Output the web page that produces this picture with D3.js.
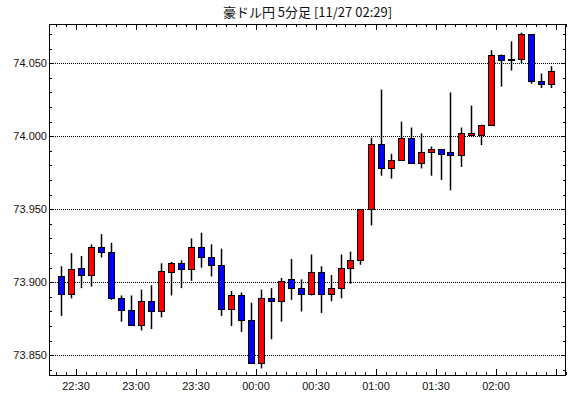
<!DOCTYPE html>
<html><head><meta charset="utf-8">
<script src="https://cdn.jsdelivr.net/npm/d3@7/dist/d3.min.js"></script>
<style>
html,body{margin:0;padding:0;background:#fff;}
svg{display:block;}
text{font-family:"Liberation Sans",Arial,sans-serif;}
</style></head>
<body>
<svg id="chart" width="570" height="398"></svg>
<script>
const title = "豪ドル円 5分足 [11/27 02:29]";
const times = ["22:20","22:25","22:30","22:35","22:40","22:45","22:50","22:55","23:00","23:05",
"23:10","23:15","23:20","23:25","23:30","23:35","23:40","23:45","23:50","23:55",
"00:00","00:05","00:10","00:15","00:20","00:25","00:30","00:35","00:40","00:45",
"00:50","00:55","01:00","01:05","01:10","01:15","01:20","01:25","01:30","01:35",
"01:40","01:45","01:50","01:55","02:00","02:05","02:10","02:15","02:20","02:25"];
const open = [73.904,73.892,73.910,73.905,73.924,73.921,73.889,73.881,73.871,73.887,
73.880,73.907,73.913,73.909,73.924,73.917,73.912,73.882,73.891,73.874,
73.845,73.889,73.887,73.902,73.896,73.892,73.907,73.892,73.896,73.910,
73.915,73.950,73.995,73.978,73.984,73.999,73.982,73.989,73.991,73.989,
73.987,74.001,74.001,74.008,74.056,74.052,74.053,74.070,74.038,74.036];
const high = [73.911,73.920,73.918,73.926,73.933,73.927,73.891,73.891,73.895,73.898,
73.913,73.914,73.915,73.930,73.934,73.926,73.923,73.894,73.893,73.886,
73.895,73.896,73.903,73.916,73.902,73.919,73.911,73.905,73.919,73.921,
73.950,73.999,74.032,73.988,74.010,74.006,74.002,73.993,73.991,74.030,
74.006,74.021,74.008,74.059,74.056,74.065,74.071,74.070,74.043,74.048];
const low = [73.877,73.889,73.896,73.897,73.917,73.888,73.873,73.870,73.867,73.868,
73.876,73.891,73.896,73.901,73.910,73.904,73.877,73.870,73.866,73.844,
73.841,73.861,73.873,73.888,73.880,73.891,73.879,73.887,73.889,73.899,
73.912,73.939,73.973,73.971,73.984,73.982,73.978,73.973,73.970,73.963,
73.979,74.000,73.994,74.008,74.034,74.045,74.050,74.036,74.033,74.033];
const close = [73.892,73.909,73.905,73.924,73.921,73.889,73.881,73.871,73.887,73.880,
73.908,73.913,73.909,73.924,73.917,73.912,73.882,73.891,73.874,73.845,
73.889,73.887,73.901,73.896,73.892,73.907,73.892,73.896,73.910,73.915,
73.950,73.995,73.978,73.984,73.999,73.982,73.989,73.991,73.988,73.987,
74.002,74.002,74.008,74.056,74.052,74.053,74.070,74.038,74.036,74.045];
const yMajorTicks = [73.850,73.900,73.950,74.000,74.050];
const xLabelTicks = ["22:30","23:00","23:30","00:00","00:30","01:00","01:30","02:00"];

function toDate(s){
  const [h,m] = s.split(":").map(Number);
  const day = h >= 12 ? 26 : 27;
  return new Date(2020,10,day,h,m,0);
}
const data = times.map((t,i)=>({t:toDate(t),o:open[i],h:high[i],l:low[i],c:close[i]}));

const L=49, R=566, T=24, B=375;
const svg = d3.select("#chart");

const x = d3.scaleTime()
  .domain([new Date(2020,10,26,22,16,45), new Date(2020,10,27,2,35,15)])
  .range([L,R]);
const y = d3.scaleLinear().domain([73.8365,74.0769]).range([B,T]);

// title
svg.append("text").attr("x",(L+R)/2).attr("y",17).attr("text-anchor","middle")
  .style("font-family","'Noto Sans CJK JP',sans-serif").style("font-size","13px").attr("fill","#111")
  .text(title);

// gridlines
const gy = d3.range(73.84,74.0801,0.01).map(v=>+v.toFixed(3));
svg.append("g").selectAll("line").data(yMajorTicks).join("line")
  .attr("x1",L).attr("x2",R)
  .attr("y1",d=>Math.round(y(d))+0.5).attr("y2",d=>Math.round(y(d))+0.5)
  .attr("stroke","#000").attr("stroke-width",1).attr("stroke-dasharray","1,1");

// minor y ticks left/right
const minorY = gy.filter(v=>v>y.domain()[0] && v<y.domain()[1]);
const isMajorY = v => yMajorTicks.some(m=>Math.abs(m-v)<1e-6);
svg.append("g").selectAll("line").data(minorY).join("line")
  .attr("x1",L).attr("x2",d=>L+(isMajorY(d)?5:3))
  .attr("y1",d=>Math.round(y(d))+0.5).attr("y2",d=>Math.round(y(d))+0.5)
  .attr("stroke","#000");
svg.append("g").selectAll("line").data(minorY).join("line")
  .attr("x1",R).attr("x2",d=>R-(isMajorY(d)?5:3))
  .attr("y1",d=>Math.round(y(d))+0.5).attr("y2",d=>Math.round(y(d))+0.5)
  .attr("stroke","#000");

// y labels
svg.append("g").selectAll("text").data(yMajorTicks).join("text")
  .attr("x",L-2).attr("y",d=>y(d)).attr("dy","0.36em").attr("text-anchor","end")
  .style("font-size","11px").attr("fill","#111")
  .text(d=>d3.format(".3f")(d));

// x ticks
const xTicks = d3.timeMinute.every(5).range(x.domain()[0], x.domain()[1]);
const isMajorX = d => d.getMinutes()%30===0;
svg.append("g").selectAll("line").data(xTicks).join("line")
  .attr("x1",d=>Math.round(x(d))+0.5).attr("x2",d=>Math.round(x(d))+0.5)
  .attr("y1",B).attr("y2",d=>B-(isMajorX(d)?6:3)).attr("stroke","#000");
svg.append("g").selectAll("line").data(xTicks).join("line")
  .attr("x1",d=>Math.round(x(d))+0.5).attr("x2",d=>Math.round(x(d))+0.5)
  .attr("y1",T).attr("y2",d=>T+(isMajorX(d)?6:3)).attr("stroke","#000");

svg.append("g").selectAll("text").data(xLabelTicks).join("text")
  .attr("x",d=>x(toDate(d))+0.5).attr("y",390).attr("text-anchor","middle")
  .style("font-size","11px").attr("fill","#111")
  .text(d=>d);

// frame
svg.append("rect").attr("x",L+0.5).attr("y",T+0.5).attr("width",R-L-1).attr("height",B-T)
  .attr("fill","none").attr("stroke","#000").attr("stroke-width",1);

// candles
const half = 2.5*60*1000;
const g = svg.append("g");
const cx = d => Math.round(x(new Date(+d.t+half)));
g.selectAll("line.wick").data(data).join("line").attr("class","wick")
  .attr("x1",d=>cx(d)+0.5).attr("x2",d=>cx(d)+0.5)
  .attr("y1",d=>y(d.h)).attr("y2",d=>y(d.l))
  .attr("stroke","#000").attr("stroke-width",1.5);
g.selectAll("rect.body").data(data).join("rect").attr("class","body")
  .attr("x",d=>cx(d)-3+0.5).attr("width",6)
  .attr("y",d=>Math.round(y(Math.max(d.o,d.c)))+0.5)
  .attr("height",d=>Math.max(1,Math.round(y(Math.min(d.o,d.c)))-Math.round(y(Math.max(d.o,d.c)))))
  .attr("fill",d=>d.c>=d.o?"#ff0000":"#0000ff")
  .attr("stroke","#000").attr("stroke-width",1);
</script>
</body></html>
